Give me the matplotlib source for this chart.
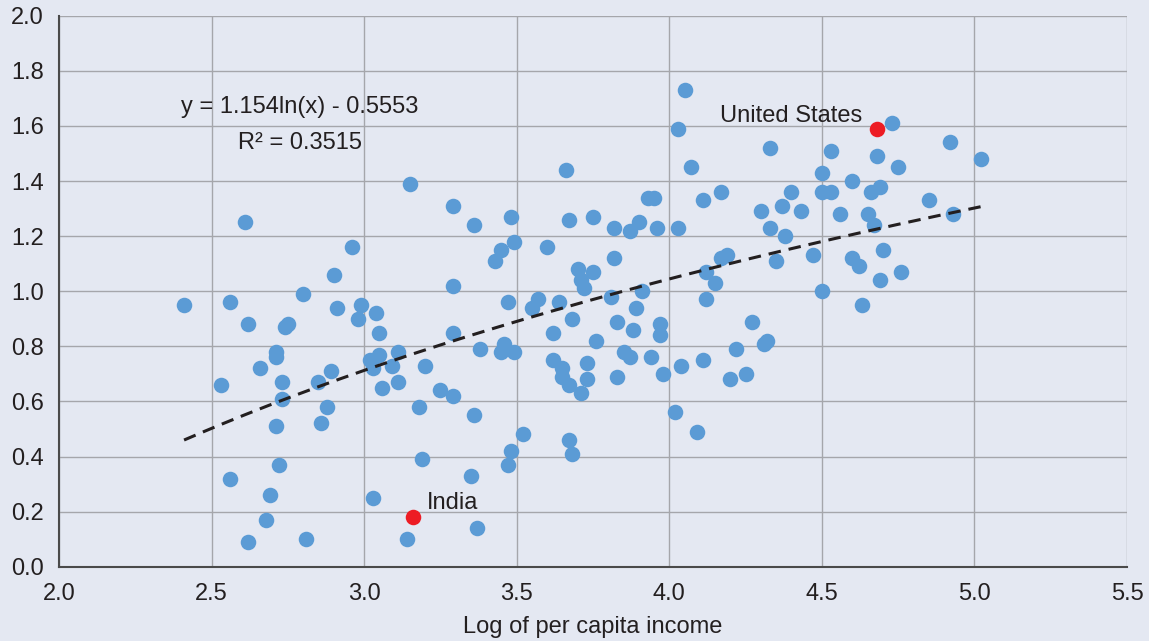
import matplotlib
matplotlib.use("Agg")
import matplotlib.pyplot as plt
import numpy as np

# log of per capita income (x) and the indicator on the vertical axis (y)
log_income = [
    2.41, 2.53, 2.56, 2.56, 2.61, 2.62, 2.62, 2.66, 2.68, 2.69,
    2.71, 2.71, 2.71, 2.72, 2.73, 2.73, 2.74, 2.75, 2.80, 2.81,
    2.85, 2.86, 2.88, 2.89, 2.90, 2.91, 2.96, 2.98, 2.99, 3.02,
    3.03, 3.03, 3.04, 3.05, 3.05, 3.06, 3.09, 3.11, 3.11, 3.15,
    3.14, 3.18, 3.19, 3.20, 3.25, 3.29, 3.29, 3.29, 3.29, 3.36,
    3.35, 3.36, 3.37, 3.38, 3.43, 3.45, 3.45, 3.46, 3.47, 3.47,
    3.48, 3.48, 3.49, 3.49, 3.52, 3.55, 3.57, 3.60, 3.62, 3.62,
    3.64, 3.65, 3.65, 3.66, 3.67, 3.67, 3.67, 3.68, 3.68, 3.70,
    3.71, 3.71, 3.72, 3.73, 3.73, 3.75, 3.75, 3.76, 3.81, 3.82,
    3.82, 3.83, 3.83, 3.85, 3.87, 3.87, 3.88, 3.89, 3.90, 3.91,
    3.94, 3.93, 3.95, 3.96, 3.97, 3.97, 3.98, 4.02, 4.03, 4.03,
    4.05, 4.04, 4.07, 4.09, 4.11, 4.11, 4.12, 4.12, 4.15, 4.17,
    4.17, 4.19, 4.20, 4.22, 4.25, 4.27, 4.30, 4.31, 4.32, 4.33,
    4.33, 4.35, 4.37, 4.38, 4.40, 4.43, 4.47, 4.50, 4.50, 4.50,
    4.53, 4.53, 4.56, 4.60, 4.60, 4.62, 4.63, 4.65, 4.66, 4.67,
    4.68, 4.69, 4.69, 4.70, 4.73, 4.75, 4.76, 4.85, 4.92, 4.93,
    5.02,
]
indicator = [
    0.95, 0.66, 0.32, 0.96, 1.25, 0.88, 0.09, 0.72, 0.17, 0.26,
    0.51, 0.76, 0.78, 0.37, 0.61, 0.67, 0.87, 0.88, 0.99, 0.10,
    0.67, 0.52, 0.58, 0.71, 1.06, 0.94, 1.16, 0.90, 0.95, 0.75,
    0.25, 0.72, 0.92, 0.77, 0.85, 0.65, 0.73, 0.78, 0.67, 1.39,
    0.10, 0.58, 0.39, 0.73, 0.64, 1.31, 1.02, 0.85, 0.62, 0.55,
    0.33, 1.24, 0.14, 0.79, 1.11, 1.15, 0.78, 0.81, 0.37, 0.96,
    1.27, 0.42, 1.18, 0.78, 0.48, 0.94, 0.97, 1.16, 0.85, 0.75,
    0.96, 0.72, 0.69, 1.44, 1.26, 0.46, 0.66, 0.90, 0.41, 1.08,
    1.04, 0.63, 1.01, 0.68, 0.74, 1.07, 1.27, 0.82, 0.98, 1.23,
    1.12, 0.69, 0.89, 0.78, 1.22, 0.76, 0.86, 0.94, 1.25, 1.00,
    0.76, 1.34, 1.34, 1.23, 0.88, 0.84, 0.70, 0.56, 1.23, 1.59,
    1.73, 0.73, 1.45, 0.49, 0.75, 1.33, 0.97, 1.07, 1.03, 1.36,
    1.12, 1.13, 0.68, 0.79, 0.70, 0.89, 1.29, 0.81, 0.82, 1.23,
    1.52, 1.11, 1.31, 1.20, 1.36, 1.29, 1.13, 1.43, 1.00, 1.36,
    1.51, 1.36, 1.28, 1.40, 1.12, 1.09, 0.95, 1.28, 1.36, 1.24,
    1.49, 1.38, 1.04, 1.15, 1.61, 1.45, 1.07, 1.33, 1.54, 1.28,
    1.48,
]

highlight_names = ["United States", "India"]
highlight_x = [4.68, 3.16]
highlight_y = [1.59, 0.18]

# fitted trend shown on the chart: y = a*ln(x) + b
trend_a = 1.154
trend_b = -0.5553
trend_r2 = 0.3515

xticks = [2.0, 2.5, 3.0, 3.5, 4.0, 4.5, 5.0, 5.5]
yticks = [0.0, 0.2, 0.4, 0.6, 0.8, 1.0, 1.2, 1.4, 1.6, 1.8, 2.0]

bg = "#e4e8f2"
txt = "#231f20"

plt.rcParams["font.family"] = ["Liberation Sans", "DejaVu Sans"]

fig = plt.figure(figsize=(11.49, 6.41), dpi=100, facecolor=bg)
ax = fig.add_axes([0.0513, 0.1159, 0.9296, 0.8596])
ax.set_facecolor(bg)

ax.scatter(log_income, indicator, s=125, color="#5b9bd5", linewidths=0, zorder=3)
ax.scatter(highlight_x, highlight_y, s=125, color="#ed1c24", linewidths=0, zorder=4)

xs = np.linspace(min(log_income), max(log_income), 200)
ax.plot(xs, trend_a * np.log(xs) + trend_b, color=txt, lw=2.2,
        dashes=(4.1, 2.6), zorder=5)

ax.text(2.79, 1.669, "y = %.3fln(x) - %.4f" % (trend_a, -trend_b),
        ha="center", va="center", fontsize=17, color=txt)
ax.text(2.79, 1.538, "R² = %.4f" % trend_r2,
        ha="center", va="center", fontsize=17, color=txt)
ax.text(4.633, 1.636, highlight_names[0], ha="right", va="center",
        fontsize=17, color=txt)
ax.text(3.206, 0.232, highlight_names[1], ha="left", va="center",
        fontsize=17, color=txt)

ax.set_xlim(2.0, 5.5)
ax.set_ylim(0.0, 2.0)
ax.set_xticks(xticks)
ax.set_yticks(yticks)
ax.set_xticklabels(["%.1f" % t for t in xticks])
ax.set_yticklabels(["%.1f" % t for t in yticks])
ax.tick_params(axis="both", length=0, labelsize=17, labelcolor=txt)
ax.tick_params(axis="x", pad=12)
ax.tick_params(axis="y", pad=11)
ax.grid(True, color="#a5a6ab", lw=1.0, zorder=0)
ax.set_axisbelow(True)

for side in ["top", "right"]:
    ax.spines[side].set_visible(False)
for side in ["left", "bottom"]:
    ax.spines[side].set_color("#4a4a4a")
    ax.spines[side].set_linewidth(1.5)

ax.set_xlabel("Log of per capita income", fontsize=17, color=txt, labelpad=8)

fig.savefig("out.png", dpi=100, facecolor=bg)
